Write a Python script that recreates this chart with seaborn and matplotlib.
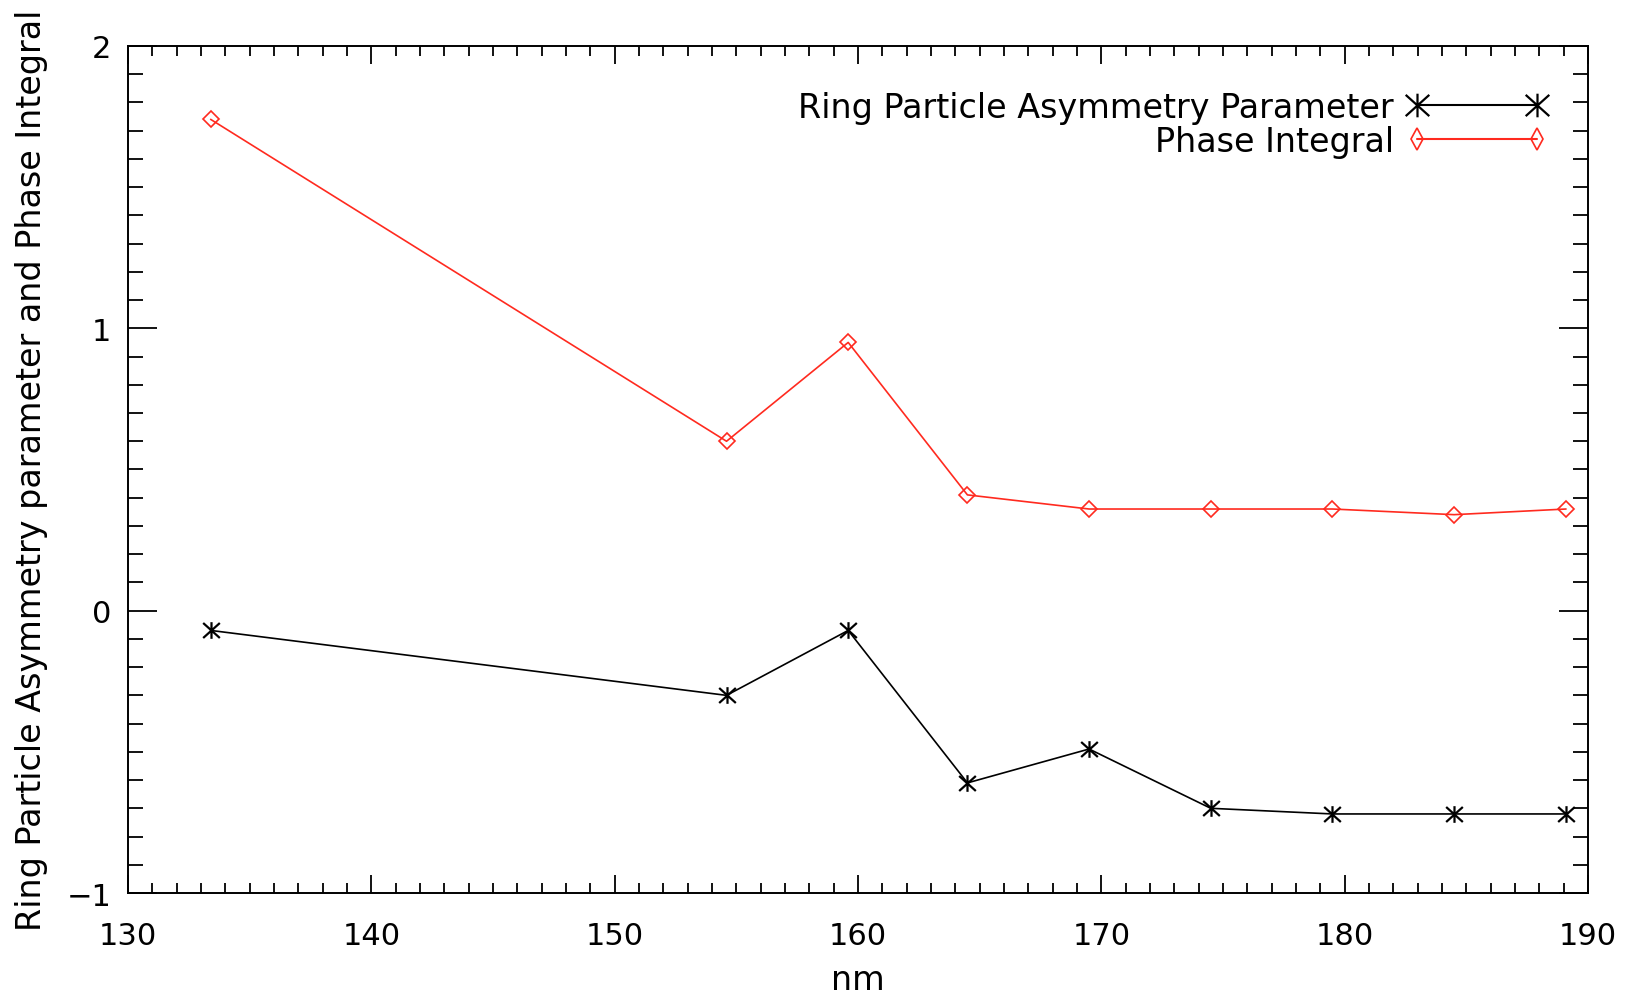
import matplotlib
matplotlib.use("Agg")
import numpy as np
import pandas as pd
import seaborn as sns
import matplotlib.pyplot as plt
from matplotlib.ticker import MultipleLocator, FixedLocator
from matplotlib.lines import Line2D
from matplotlib.path import Path

# Wavelength samples (nm) and the two measured quantities
wavelength_nm = [133.4, 154.6, 159.6, 164.5, 169.5, 174.5, 179.5, 184.5, 189.1]
asymmetry = [-0.07, -0.30, -0.07, -0.61, -0.49, -0.70, -0.72, -0.72, -0.72]
phase_integral = [1.74, 0.60, 0.95, 0.41, 0.36, 0.36, 0.36, 0.34, 0.36]

series_names = ["Ring Particle Asymmetry Parameter", "Phase Integral"]
x_ticks = [130, 140, 150, 160, 170, 180, 190]
y_ticks = [-1, 0, 1, 2]
x_label = "nm"
y_label = "Ring Particle Asymmetry parameter and Phase Integral"

sns.set_theme(style="ticks")
plt.rcParams["font.family"] = ["DejaVu Sans"]
plt.rcParams["axes.linewidth"] = 1.4
plt.rcParams["xtick.direction"] = "in"
plt.rcParams["ytick.direction"] = "in"
plt.rcParams["text.color"] = "black"
plt.rcParams["axes.labelcolor"] = "black"
plt.rcParams["xtick.color"] = "black"
plt.rcParams["ytick.color"] = "black"
plt.rcParams["axes.edgecolor"] = "black"

FS_LABEL = 24
FS_TICK = 22
RED = "#ff2a1f"

# Asterisk symbol: a vertical stroke crossed by an X
ASTERISK = Path(
    [(0, -1), (0, 1), (-1, -0.9), (1, 0.9), (-1, 0.9), (1, -0.9)],
    [Path.MOVETO, Path.LINETO, Path.MOVETO, Path.LINETO,
     Path.MOVETO, Path.LINETO],
)

df = pd.DataFrame({
    "nm": wavelength_nm,
    series_names[0]: asymmetry,
    series_names[1]: phase_integral,
})

fig = plt.figure(figsize=(16.34, 9.95), dpi=100)
ax = fig.add_axes([0.0783, 0.1015, 0.8935, 0.8513])

sns.lineplot(data=df, x="nm", y=series_names[0], ax=ax, color="black",
             linewidth=1.2, marker=ASTERISK, markersize=12,
             markeredgewidth=1.6, markeredgecolor="black",
             markerfacecolor="none", legend=False)
sns.lineplot(data=df, x="nm", y=series_names[1], ax=ax, color=RED,
             linewidth=1.2, marker="D", markersize=8,
             markerfacecolor="none", markeredgecolor=RED,
             markeredgewidth=1.2, legend=False)

ax.set_xlim(x_ticks[0], x_ticks[-1])
ax.set_ylim(y_ticks[0], y_ticks[-1])
ax.xaxis.set_major_locator(FixedLocator(x_ticks))
ax.yaxis.set_major_locator(FixedLocator(y_ticks))
ax.xaxis.set_minor_locator(MultipleLocator(1))
ax.yaxis.set_minor_locator(MultipleLocator(0.1))

ax.tick_params(axis="x", which="major", length=13, width=1.3, top=True,
               bottom=True, labelsize=FS_TICK, pad=20)
ax.tick_params(axis="x", which="minor", length=7, width=1.3, top=True,
               bottom=True)
ax.tick_params(axis="y", which="major", length=21, width=1.3, left=True,
               right=True, labelsize=FS_TICK, pad=12)
ax.tick_params(axis="y", which="minor", length=11, width=1.3, left=True,
               right=True)

ax.set_xlabel(x_label, fontsize=FS_LABEL)
ax.set_ylabel(y_label, fontsize=FS_LABEL)
ax.xaxis.set_label_coords(0.5, -0.083)
ax.yaxis.set_label_coords(-0.055, 0.5)

# Legend keys use larger symbols than the data points
handles = [
    Line2D([], [], color="black", linewidth=1.5, marker=ASTERISK,
           markersize=17, markeredgewidth=1.6, markeredgecolor="black",
           markerfacecolor="none"),
    Line2D([], [], color=RED, linewidth=1.5, marker="d", markersize=11,
           markeredgewidth=1.2, markeredgecolor=RED, markerfacecolor="none"),
]
leg = ax.legend(handles, series_names, loc="upper right",
                bbox_to_anchor=(0.972, 0.947), frameon=False,
                markerfirst=False, numpoints=2, fontsize=FS_LABEL,
                handlelength=4.2, handletextpad=0.4, labelspacing=0.03,
                borderpad=0, borderaxespad=0)

fig.savefig("out.png", dpi=100, facecolor="white")
